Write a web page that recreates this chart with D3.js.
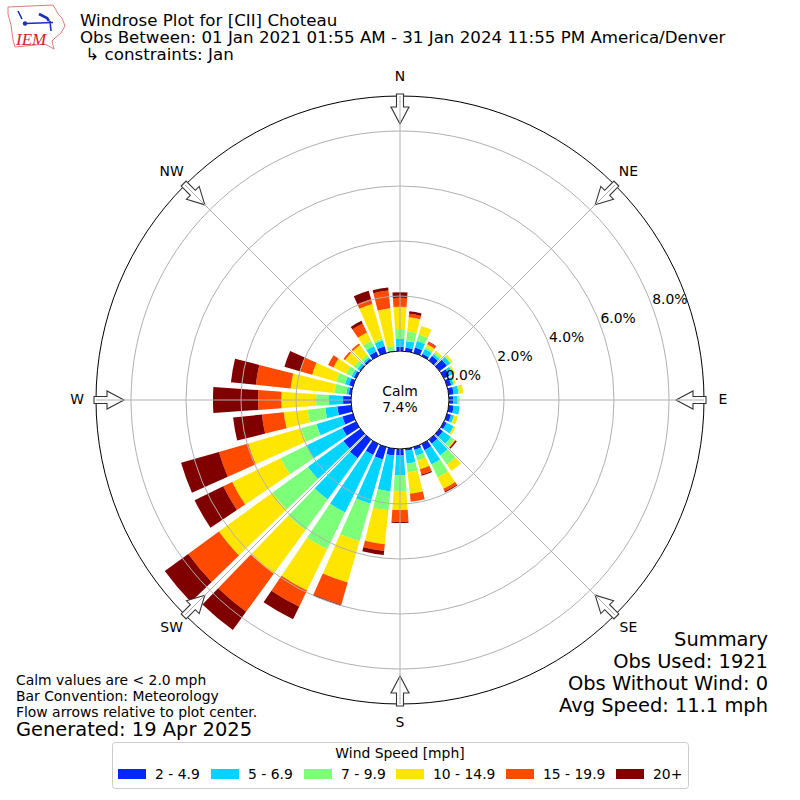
<!DOCTYPE html>
<html>
<head>
<meta charset="utf-8">
<script src="https://cdn.jsdelivr.net/npm/d3@7"></script>
<style>
    html, body { margin: 0; padding: 0; background: #fff; }
    svg { display: block; }
    text { font-family: "DejaVu Sans", sans-serif; fill: #000; }
</style>
</head>
<body>
<svg id="windrose" width="800" height="800"></svg>
<script>
// direction of each bar, degrees from north
var directions = d3.range(0, 360, 10);

// percent of obs per direction, one list per speed class
var speed2to5 = [.16,.13,.20,.09,.20,.33,.22,.16,.18,.16,.18,.15,.11,.15,.18,.25,.11,.07,.22,.25,.47,.44,.84,.76,.55,.40,.51,.29,.09,.15,.09,.05,.07,.18,.25,.02];
var speed5to7 = [.28,.24,.25,.19,.09,.15,.15,.09,.18,.15,.22,.11,.28,.36,.53,.58,.22,.47,.73,1.31,1.67,2.33,1.85,1.60,1.45,.98,.44,.51,.09,.15,.09,.09,.07,.22,.22,.02];
var speed7to10 = [.36,.36,.25,.08,.07,.04,.04,.04,.04,.07,.01,.02,.01,.15,.42,.51,.18,.33,.58,.69,1.42,1.49,1.38,1.60,1.05,.58,.65,.47,.44,.33,.22,.15,.11,.22,.07,.15];
var speed10to15 = [.81,.51,.32,.11,.07,.07,.04,.04,.13,0,0,.13,.07,.04,.28,.47,.33,.78,.69,1.24,1.56,1.67,1.96,2.40,1.96,2.00,.87,1.27,1.60,.91,.51,.40,.44,.33,1.31,1.38];
var speed15to20 = [.33,.13,0,.09,0,0,0,0,0,0,0,0,0,.02,0,.11,.20,.29,.43,.25,.84,.65,1.71,1.38,.36,1.11,.80,.84,1.27,.47,.22,.07,.07,.36,.18,.65];
var speed20up = [.20,.09,0,.02,0,0,0,0,0,0,0,0,0,.05,0,.04,.04,0,.04,.15,.04,.51,.82,1.05,1.16,1.43,1.05,1.64,.91,.58,0,0,0,.11,.32,.11];

var speedKeys = ["2 - 4.9", "5 - 6.9", "7 - 9.9", "10 - 14.9", "15 - 19.9", "20+"];
var speedColors = ["#0028ff", "#00d4ff", "#7dff7a", "#ffe600", "#ff4a00", "#800000"];

var radialTicks = [0, 2, 4, 6, 8];
var compassLabels = ["N", "NE", "E", "SE", "S", "SW", "W", "NW"];

var titleLines = ["Windrose Plot for [CII] Choteau",
    "Obs Between: 01 Jan 2021 01:55 AM - 31 Jan 2024 11:55 PM America/Denver",
    " \u21b3 constraints: Jan"];
var summaryLines = ["Summary", "Obs Used: 1921", "Obs Without Wind: 0", "Avg Speed: 11.1 mph"];
var noteLines = ["Calm values are < 2.0 mph", "Bar Convention: Meteorology", "Flow arrows relative to plot center."];

var series = [speed2to5, speed5to7, speed7to10, speed10to15, speed15to20, speed20up];
var table = directions.map(function(dir, i) {
    var row = {dir: dir};
    speedKeys.forEach(function(k, j) { row[k] = series[j][i]; });
    return row;
});

var svg = d3.select("#windrose");
var cx = 400, cy = 400, outer = 304, inner = 49;

var r = d3.scaleLinear().domain([0, 9.273]).range([inner, outer]);
var barWidth = 8 * Math.PI / 180;

var rose = svg.append("g").attr("transform", `translate(${cx},${cy})`);

// bars
var arc = d3.arc();
var layers = rose.selectAll("g.layer")
    .data(d3.stack().keys(speedKeys)(table))
    .enter().append("g")
    .attr("class", "layer")
    .attr("fill", function(d, i) { return speedColors[i]; });

layers.selectAll("path")
    .data(function(d) { return d; })
    .enter().append("path")
    .attr("d", function(d) {
        var a = d.data.dir * Math.PI / 180;
        return arc({
            innerRadius: r(d[0]),
            outerRadius: r(d[1]),
            startAngle: a - barWidth / 2,
            endAngle: a + barWidth / 2
        });
    });

// calm circle and frame
rose.append("circle").attr("r", inner).attr("fill", "#fff").attr("stroke", "#000").attr("stroke-width", 1);
rose.append("circle").attr("r", outer).attr("fill", "none").attr("stroke", "#000").attr("stroke-width", 1);

// flow arrows, drawn pointing at the center from the north side
var arrow = "M0,-276 L9,-293 L3.5,-293 L3.5,-306 L-3.5,-306 L-3.5,-293 L-9,-293 Z";
rose.selectAll("path.flow")
    .data(compassLabels)
    .enter().append("path")
    .attr("class", "flow")
    .attr("d", arrow)
    .attr("transform", function(d, i) { return `rotate(${i * 45})`; })
    .attr("fill", "#fff")
    .attr("stroke", "#333")
    .attr("stroke-width", 1.1);

// grid on top of bars
rose.selectAll("circle.ring")
    .data(radialTicks.slice(1))
    .enter().append("circle")
    .attr("class", "ring")
    .attr("r", function(d) { return r(d); })
    .attr("fill", "none")
    .attr("stroke", "#b0b0b0")
    .attr("stroke-width", 1);

rose.selectAll("line.spoke")
    .data(compassLabels)
    .enter().append("line")
    .attr("class", "spoke")
    .attr("x1", function(d, i) { return inner * Math.sin(i * Math.PI / 4); })
    .attr("y1", function(d, i) { return -inner * Math.cos(i * Math.PI / 4); })
    .attr("x2", function(d, i) { return outer * Math.sin(i * Math.PI / 4); })
    .attr("y2", function(d, i) { return -outer * Math.cos(i * Math.PI / 4); })
    .attr("stroke", "#b0b0b0")
    .attr("stroke-width", 1);

rose.append("text").attr("text-anchor", "middle").attr("y", -4).attr("font-size", 13.9).text("Calm");
rose.append("text").attr("text-anchor", "middle").attr("y", 12).attr("font-size", 13.9).text("7.4%");

// radial tick labels
var tickAngle = 20.2 * Math.PI / 180;
rose.selectAll("text.rtick")
    .data(radialTicks)
    .enter().append("text")
    .attr("class", "rtick")
    .attr("x", function(d) { return (r(d) + 18.5) * Math.cos(tickAngle); })
    .attr("y", function(d) { return -(r(d) + 18.5) * Math.sin(tickAngle) + 3.5; })
    .attr("text-anchor", "middle")
    .attr("font-size", 13.9)
    .text(function(d) { return d.toFixed(1) + "%"; });

rose.selectAll("text.compass")
    .data(compassLabels)
    .enter().append("text")
    .attr("class", "compass")
    .attr("x", function(d, i) { return 323 * Math.sin(i * Math.PI / 4); })
    .attr("y", function(d, i) { return -323 * Math.cos(i * Math.PI / 4) + 4; })
    .attr("text-anchor", "middle")
    .attr("font-size", 13.9)
    .text(function(d) { return d; });

// header
svg.selectAll("text.title")
    .data(titleLines)
    .enter().append("text")
    .attr("class", "title")
    .attr("x", 80)
    .attr("y", function(d, i) { return 26 + i * 17; })
    .attr("font-size", 16.67)
    .style("white-space", "pre")
    .text(function(d) { return d; });

// summary, bottom right
svg.selectAll("text.summary")
    .data(summaryLines)
    .enter().append("text")
    .attr("class", "summary")
    .attr("x", 768)
    .attr("y", function(d, i) { return 646 + i * 22; })
    .attr("text-anchor", "end")
    .attr("font-size", 19.45)
    .text(function(d) { return d; });

// notes, bottom left
svg.selectAll("text.note")
    .data(noteLines)
    .enter().append("text")
    .attr("class", "note")
    .attr("x", 16)
    .attr("y", function(d, i) { return 685 + i * 16; })
    .attr("font-size", 13.9)
    .text(function(d) { return d; });

svg.append("text").attr("x", 16).attr("y", 736).attr("font-size", 19.45).text("Generated: 19 Apr 2025");

// legend
var legend = svg.append("g");
legend.append("rect")
    .attr("x", 112.5).attr("y", 742.5).attr("width", 576).attr("height", 46).attr("rx", 3)
    .attr("fill", "#fff").attr("stroke", "#ccc");
legend.append("text").attr("x", 400).attr("y", 758).attr("text-anchor", "middle").attr("font-size", 13.9).text("Wind Speed [mph]");

var legendX = [118, 211, 304, 396, 506, 616];
var items = legend.selectAll("g.item")
    .data(speedKeys)
    .enter().append("g")
    .attr("class", "item")
    .attr("transform", function(d, i) { return `translate(${legendX[i]},769)`; });
items.append("rect").attr("width", 28).attr("height", 10).attr("fill", function(d, i) { return speedColors[i]; });
items.append("text").attr("x", 37).attr("y", 10).attr("font-size", 13.9).text(function(d) { return d; });

// IEM logo
var logo = svg.append("g");
logo.append("path")
    .attr("d", "M8,7 L53,5 L56,10 L58,14 L62,18 L65,26 L61,33 L56,37 L52,41 L54,49 L45,44 L15,47 L13,40 L11,25 L8,14 Z")
    .attr("fill", "none").attr("stroke", "#e07a7a").attr("stroke-width", 1);
logo.append("path")
    .attr("d", "M25,23.5 L53,22.5 M18,11 L22,19 M50,21 L51,31")
    .attr("fill", "none").attr("stroke", "#1a2fc0").attr("stroke-width", 1.6);
logo.append("path")
    .attr("d", "M39,14 L47,18 L49,21")
    .attr("fill", "none").attr("stroke", "#1a2fc0").attr("stroke-width", 2.6);
logo.append("circle").attr("cx", 25).attr("cy", 23.5).attr("r", 2.2).attr("fill", "#1a2fc0");
logo.append("text").attr("x", 16).attr("y", 45)
    .style("font-family", "'Liberation Serif', serif").style("font-style", "italic")
    .style("fill", "#d42020").attr("font-size", 17).text("IEM");
</script>
</body>
</html>
